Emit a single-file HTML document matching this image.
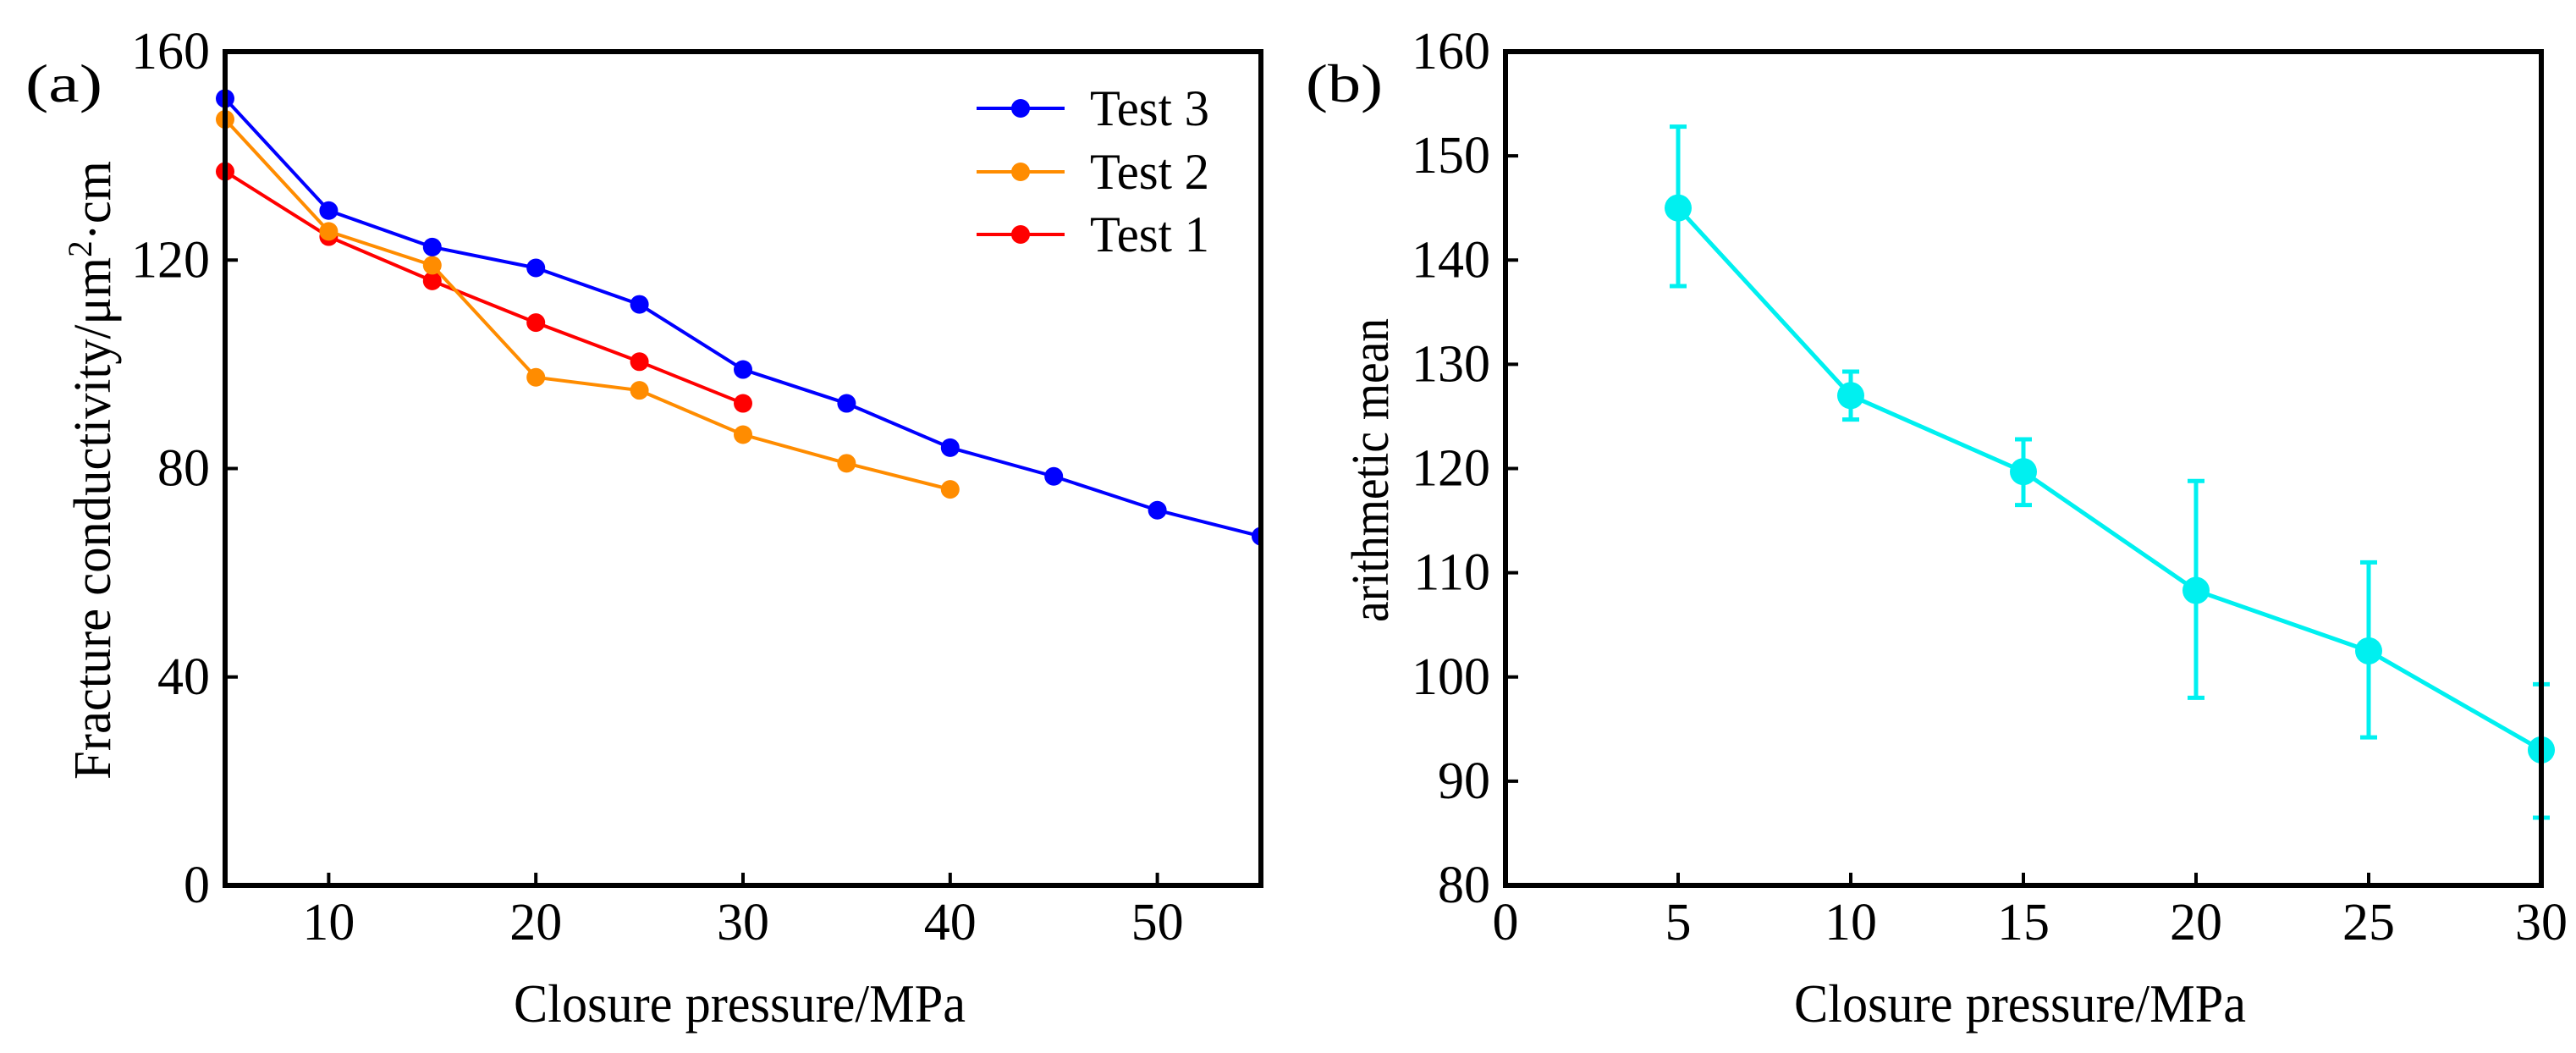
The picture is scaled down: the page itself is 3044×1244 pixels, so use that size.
<!DOCTYPE html>
<html><head><meta charset="utf-8"><style>
html,body{margin:0;padding:0;background:#fff;}
svg{display:block;font-family:"Liberation Serif",serif;}
</style></head><body>
<svg id="chart" width="3044" height="1244" viewBox="0 0 3044 1244" xmlns="http://www.w3.org/2000/svg">
<g id="pa"></g>
<g id="pb"></g>
</svg>
<script>
// Panel (a) data
const aPressure3 = [5,10,15,20,25,30,35,40,45,50,55];
const aTest3 = [151,129.5,122.5,118.5,111.5,99,92.5,84,78.5,72,67];
const aPressure2 = [5,10,15,20,25,30,35,40];
const aTest2 = [147,125.5,119,97.5,95,86.5,81,76];
const aPressure1 = [5,10,15,20,25,30];
const aTest1 = [137,124.5,116,108,100.5,92.5];
const aXTicks = [10,20,30,40,50];
const aYTicks = [0,40,80,120,160];
// Panel (b) data
const bPressure = [5,10,15,20,25,30];
const bMean = [145,127,119.7,108.3,102.5,93];
const bUpper = [152.8,129.3,122.8,118.8,111,99.3];
const bLower = [137.5,124.7,116.5,98,94.2,86.5];
const bXTicks = [0,5,10,15,20,25,30];
const bYTicks = [80,90,100,110,120,130,140,150,160];

const NS="http://www.w3.org/2000/svg";
function mk(parent,tag,attrs,text){const e=document.createElementNS(NS,tag);for(const k in attrs)e.setAttribute(k,attrs[k]);if(text!==undefined)e.textContent=text;parent.appendChild(e);return e;}

function axes(g,L,R,T,B,xs,ys,xt,yt,xTitle,yTitle,yTitleX,yLen,label){
  const frame=mk(g,'rect',{x:L,y:T,width:R-L,height:B-T,fill:'none',stroke:'#000','stroke-width':6});
  
  
  xt.forEach(v=>{const x=xs(v);
    const t=mk(g,'line',{x1:x,x2:x,y1:B,y2:B-15,stroke:'#000','stroke-width':4});
    
    
    const l=mk(g,'text',{x:x,y:B+64,'font-size':62,'text-anchor':'middle'},v);
    
    });
  yt.forEach(v=>{const y=ys(v);
    const t=mk(g,'line',{x1:L,x2:L+15,y1:y,y2:y,stroke:'#000','stroke-width':4});
    
    
    const l=mk(g,'text',{x:L-18,y:y+20,'font-size':62,'text-anchor':'end'},v);
    
    });
  const xtl=mk(g,'text',{x:(L+R)/2-4,y:1207,'font-size':64,'text-anchor':'middle',textLength:534,lengthAdjust:'spacingAndGlyphs'},xTitle);
  
  
  const ytl=mk(g,'text',{x:0,y:0,'font-size':62,'text-anchor':'middle',textLength:yLen,lengthAdjust:'spacingAndGlyphs',transform:`translate(${yTitleX},${(T+B)/2+2}) rotate(-90)`});
  ytl.innerHTML=yTitle;
  
  
  const pl=mk(g,'text',{x:L-236,y:120,'font-size':64,textLength:91,lengthAdjust:'spacingAndGlyphs'},label);
  
  
}

// Panel a
(function(){
  const g=document.getElementById('pa');
  const L=266,R=1490,T=61,B=1046;
  const xs=v=>L+(v-5)/(55-5)*(R-L), ys=v=>B-(v-0)/160*(B-T);
  const cp=mk(g,'clipPath',{id:'clipA'});mk(cp,'rect',{x:L-12,y:T-12,width:R-L+12,height:B-T+24});
  const series=[[aPressure1,aTest1,'#ff0000','test-1'],[aPressure2,aTest2,'#ff8c00','test-2'],[aPressure3,aTest3,'#0000ff','test-3']];
  const sg=mk(g,'g',{'clip-path':'url(#clipA)'});
  series.forEach(([xsA,ysA,c,n])=>{
    const p=mk(sg,'polyline',{points:xsA.map((x,i)=>xs(x)+','+ys(ysA[i])).join(' '),fill:'none',stroke:c,'stroke-width':4});
    
    
    xsA.forEach((x,i)=>{const m=mk(sg,'circle',{cx:xs(x),cy:ys(ysA[i]),r:11,fill:c});
      
      });
  });
  axes(g,L,R,T,B,xs,ys,aXTicks,aYTicks,'Closure pressure/MPa','Fracture conductivity/μm<tspan dy="-22" font-size="40">2</tspan><tspan dy="22">·cm</tspan>',130,731,'(a)');
  const leg=[['Test 3','#0000ff',128],['Test 2','#ff8c00',203],['Test 1','#ff0000',277]];
  leg.forEach(([t,c,y])=>{
    const lg=mk(g,'g',{});
    
    
    mk(lg,'line',{x1:1154,x2:1258,y1:y,y2:y,stroke:c,'stroke-width':4});
    mk(lg,'circle',{cx:1206,cy:y,r:11,fill:c});
    mk(lg,'text',{x:1288,y:y+20,'font-size':60,textLength:141,lengthAdjust:'spacingAndGlyphs'},t);
  });
})();

// Panel b
(function(){
  const g=document.getElementById('pb');
  const L=1779,R=3003,T=61,B=1046;
  const xs=v=>L+(v-0)/30*(R-L), ys=v=>B-(v-80)/80*(B-T);
  const c='#00f0f0';
  bPressure.forEach((x,i)=>{
    const eb=mk(g,'g',{stroke:c,'stroke-width':5});
    
    
    mk(eb,'line',{x1:xs(x),x2:xs(x),y1:ys(bUpper[i]),y2:ys(bLower[i])});
    mk(eb,'line',{x1:xs(x)-10,x2:xs(x)+10,y1:ys(bUpper[i]),y2:ys(bUpper[i])});
    mk(eb,'line',{x1:xs(x)-10,x2:xs(x)+10,y1:ys(bLower[i]),y2:ys(bLower[i])});
  });
  const p=mk(g,'polyline',{points:bPressure.map((x,i)=>xs(x)+','+ys(bMean[i])).join(' '),fill:'none',stroke:c,'stroke-width':5});
  
  
  bPressure.forEach((x,i)=>{const m=mk(g,'circle',{cx:xs(x),cy:ys(bMean[i]),r:16,fill:c});
    
    });
  axes(g,L,R,T,B,xs,ys,bXTicks,bYTicks,'Closure pressure/MPa','arithmetic mean',1640,359,'(b)');
})();
</script>
</body></html>
